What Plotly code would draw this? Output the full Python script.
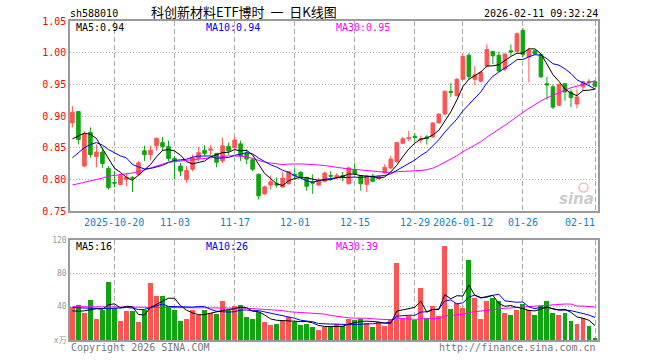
import plotly.graph_objects as go
import pandas as pd

# ---------------- data ----------------
opens = [0.889, 0.907, 0.821, 0.874, 0.836, 0.843, 0.817, 0.795, 0.792, 0.800,
         0.803, 0.808, 0.845, 0.839, 0.853, 0.858, 0.852, 0.833, 0.821, 0.800,
         0.816, 0.833, 0.846, 0.846, 0.841, 0.829, 0.852, 0.850, 0.856, 0.841,
         0.831, 0.808, 0.777, 0.791, 0.793, 0.788, 0.793, 0.808, 0.811, 0.803,
         0.796, 0.791, 0.797, 0.806, 0.804, 0.806, 0.793, 0.815, 0.806, 0.792,
         0.805, 0.801, 0.810, 0.818, 0.828, 0.857, 0.864, 0.868, 0.862, 0.867,
         0.867, 0.889, 0.903, 0.939, 0.932, 0.958, 0.996, 0.958, 0.955, 0.979,
         1.002, 0.996, 0.974, 1.003, 1.002, 1.035, 0.993, 1.003, 0.997, 0.951,
         0.946, 0.917, 0.951, 0.938, 0.919, 0.946, 0.954, 0.954]
highs = [0.916, 0.908, 0.876, 0.882, 0.855, 0.850, 0.821, 0.813, 0.809, 0.809,
         0.805, 0.829, 0.853, 0.853, 0.865, 0.867, 0.861, 0.837, 0.826, 0.821,
         0.839, 0.851, 0.854, 0.854, 0.841, 0.866, 0.858, 0.867, 0.861, 0.847,
         0.834, 0.809, 0.790, 0.806, 0.803, 0.812, 0.813, 0.817, 0.813, 0.804,
         0.808, 0.802, 0.812, 0.813, 0.810, 0.812, 0.820, 0.826, 0.807, 0.807,
         0.809, 0.806, 0.824, 0.837, 0.859, 0.867, 0.876, 0.873, 0.869, 0.870,
         0.890, 0.904, 0.940, 0.952, 0.960, 0.998, 0.999, 0.979, 0.971, 1.013,
         1.003, 1.002, 0.998, 1.013, 1.032, 1.039, 1.008, 1.005, 0.998, 0.962,
         0.950, 0.951, 0.951, 0.942, 0.942, 0.956, 0.958, 0.956]
lows = [0.882, 0.855, 0.819, 0.834, 0.819, 0.818, 0.784, 0.787, 0.791, 0.789,
        0.780, 0.806, 0.829, 0.830, 0.845, 0.845, 0.829, 0.800, 0.805, 0.795,
        0.813, 0.829, 0.837, 0.839, 0.819, 0.826, 0.839, 0.847, 0.829, 0.824,
        0.813, 0.768, 0.776, 0.784, 0.787, 0.787, 0.792, 0.799, 0.802, 0.782,
        0.777, 0.789, 0.795, 0.798, 0.800, 0.797, 0.792, 0.808, 0.782, 0.780,
        0.795, 0.800, 0.809, 0.816, 0.826, 0.856, 0.860, 0.860, 0.857, 0.855,
        0.866, 0.888, 0.902, 0.930, 0.931, 0.957, 0.958, 0.949, 0.953, 0.977,
        0.982, 0.970, 0.971, 0.995, 1.000, 0.993, 0.953, 0.997, 0.960, 0.926,
        0.911, 0.916, 0.924, 0.914, 0.912, 0.940, 0.948, 0.946]
closes = [0.906, 0.863, 0.872, 0.839, 0.843, 0.825, 0.787, 0.794, 0.806, 0.803,
          0.802, 0.826, 0.839, 0.846, 0.865, 0.852, 0.833, 0.828, 0.813, 0.814,
          0.834, 0.842, 0.841, 0.848, 0.827, 0.853, 0.845, 0.862, 0.837, 0.832,
          0.816, 0.774, 0.788, 0.796, 0.791, 0.802, 0.812, 0.806, 0.803, 0.789,
          0.794, 0.799, 0.810, 0.805, 0.806, 0.803, 0.818, 0.809, 0.793, 0.805,
          0.797, 0.805, 0.819, 0.832, 0.858, 0.864, 0.866, 0.866, 0.864, 0.865,
          0.889, 0.903, 0.939, 0.937, 0.958, 0.994, 0.962, 0.965, 0.969, 1.005,
          0.995, 0.971, 0.998, 1.001, 1.030, 0.997, 1.004, 0.998, 0.962, 0.949,
          0.914, 0.950, 0.938, 0.929, 0.930, 0.954, 0.953, 0.947]
volumes = [39.6, 42.4, 33.0, 47.7, 25.0, 36.4, 69.5, 38.4, 23.4, 34.3,
           34.3, 22.2, 36.4, 67.9, 52.5, 52.5, 41.2, 36.4, 23.4, 25.5,
           36.4, 30.3, 36.4, 32.3, 31.1, 46.5, 36.4, 41.2, 42.4, 27.5,
           25.5, 33.1, 22.2, 18.2, 19.4, 23.4, 27.5, 22.2, 18.2, 19.4,
           15.4, 12.1, 16.2, 17.4, 19.4, 17.4, 25.5, 24.2, 25.0, 21.0,
           16.0, 22.0, 17.0, 25.0, 93.0, 25.0, 29.0, 24.0, 62.0, 27.0,
           41.0, 29.0, 113.0, 37.6, 45.0, 39.0, 96.0, 50.0, 25.0, 47.0,
           50.0, 47.0, 33.0, 30.0, 35.5, 43.6, 35.5, 30.0, 41.0, 47.0,
           33.0, 30.0, 33.0, 23.0, 19.0, 26.0, 17.0, 1.6]

# moving-average values at the left edge (earlier history is off-chart)
ma5_head = [0.864, 0.868, 0.873, 0.871]
ma10_head = [0.834, 0.842, 0.850, 0.855, 0.858, 0.854, 0.847, 0.842, 0.837]
ma30_head = [0.791, 0.793, 0.795, 0.797, 0.799, 0.802, 0.805, 0.806, 0.807, 0.808,
             0.810, 0.812, 0.815, 0.818, 0.822, 0.825, 0.827, 0.828, 0.829, 0.830,
             0.831, 0.833, 0.834, 0.835, 0.836, 0.836, 0.837, 0.837, 0.836]
vma5_head = [35.0, 34.5, 35.0, 36.5]
vma10_head = [39.0, 38.5, 38.0, 38.0, 38.0, 37.5, 37.5, 38.0, 38.5]
vma30_head = [40.0, 40.0, 39.9, 39.9, 39.8, 39.8, 39.7, 39.7, 39.6, 39.5,
              39.5, 39.4, 39.3, 39.3, 39.2, 39.1, 39.0, 39.0, 38.9, 38.8,
              38.8, 38.7, 38.6, 38.5, 38.5, 38.4, 38.3, 38.3, 38.2]

tick_idx = [7, 17, 27, 37, 47, 57, 65, 75, 87]
tick_text = ["2025-10-20", "11-03", "11-17", "12-01", "12-15", "12-29",
             "2026-01-12", "01-26", "02-11"]
price_ticks = [0.75, 0.80, 0.85, 0.90, 0.95, 1.00, 1.05]
vol_ticks = [0, 40, 80, 120]
vol_tick_text = ["x万", "40", "80", "120"]
price_ma_labels = ["MA5:0.94", "MA10:0.94", "MA30:0.95"]
vol_ma_labels = ["MA5:16", "MA10:26", "MA30:39"]
code = "sh588010"
title = "科创新材料ETF博时&nbsp;&nbsp;一&nbsp;&nbsp;日K线图"
stamp = "2026-02-11 09:32:24"

# ---------------- derived ----------------
n = len(closes)
idx = list(range(n))


def ma(vals, w, head):
    s = pd.Series(vals).rolling(w).mean().tolist()
    s[:len(head)] = head
    return s


ma5 = ma(closes, 5, ma5_head)
ma10 = ma(closes, 10, ma10_head)
ma30 = ma(closes, 30, ma30_head)
vma5 = ma(volumes, 5, vma5_head)
vma10 = ma(volumes, 10, vma10_head)
vma30 = ma(volumes, 30, vma30_head)

RED = "#ff5454"
GREEN = "#10a410"
vol_colors = [RED if c > o else GREEN for o, c in zip(opens, closes)]

W, H = 660, 360
L, R, T, B = 70, 62, 21, 20
PW, PH = W - L - R, H - T - B


def px(x):
    return (x - L) / PW


def py(y):
    return (H - B - y) / PH


main_dom = [py(211), 1.0]
vol_dom = [0.0, py(240)]

MONO = "DejaVu Sans Mono, Noto Sans CJK SC, monospace"

fig = go.Figure()
fig.add_trace(go.Candlestick(
    x=idx, open=opens, high=highs, low=lows, close=closes,
    increasing=dict(line=dict(color=RED, width=1), fillcolor=RED),
    decreasing=dict(line=dict(color=GREEN, width=1), fillcolor=GREEN),
    whiskerwidth=0, xaxis="x", yaxis="y", hoverinfo="skip", showlegend=False))
for vals, col in [(ma30, "#ff00ff"), (ma10, "#0000ff"), (ma5, "#000000")]:
    fig.add_trace(go.Scatter(x=idx, y=vals, mode="lines",
                             line=dict(color=col, width=1),
                             xaxis="x", yaxis="y", hoverinfo="skip", showlegend=False))

fig.add_trace(go.Bar(x=idx, y=volumes, marker=dict(color=vol_colors, line=dict(width=0)),
                     width=0.82, xaxis="x2", yaxis="y2", hoverinfo="skip", showlegend=False))
for vals, col in [(vma30, "#ff00ff"), (vma10, "#0000ff"), (vma5, "#000000")]:
    fig.add_trace(go.Scatter(x=idx, y=vals, mode="lines",
                             line=dict(color=col, width=1),
                             xaxis="x2", yaxis="y2", hoverinfo="skip", showlegend=False))

xr = [-0.4, 87.5]
axis_common = dict(showline=True, linecolor="#9a9a9a", linewidth=1.5, mirror=True,
                   zeroline=False, fixedrange=True, automargin=False)
fig.update_layout(
    width=W, height=H,
    margin=dict(l=L, r=R, t=T, b=B, pad=0, autoexpand=False),
    paper_bgcolor="white", plot_bgcolor="white",
    boxgap=0.15,
    bargap=0,
    xaxis=dict(domain=[0, 1], range=xr, anchor="y", tickvals=tick_idx,
               showticklabels=False, ticks="", showgrid=True, gridcolor="#ababab",
               griddash="5px,3px", gridwidth=1, rangeslider=dict(visible=False),
               **axis_common),
    yaxis=dict(domain=main_dom, range=[0.75, 1.05], anchor="x", tickvals=price_ticks,
               ticktext=[f"{v:.2f}" for v in price_ticks], ticks="",
               tickfont=dict(family=MONO, size=10, color="#ff0000"),
               showgrid=True, gridcolor="#b0b0b0", griddash="1px,2px", gridwidth=1,
               **axis_common),
    xaxis2=dict(domain=[0, 1], range=xr, anchor="y2", tickvals=tick_idx,
                showticklabels=False, ticks="", showgrid=True, gridcolor="#ababab",
                griddash="5px,3px", gridwidth=1, **axis_common),
    yaxis2=dict(domain=vol_dom, range=[0, 120], anchor="x2", tickvals=vol_ticks,
                ticktext=vol_tick_text, ticks="",
                tickfont=dict(family=MONO, size=8, color="#999999"),
                showgrid=True, gridcolor="#b0b0b0", griddash="1px,2px", gridwidth=1,
                **axis_common),
)

ann = []


def text(x, y, s, color="#000000", size=10, xanchor="left", family=MONO):
    ann.append(dict(x=x, y=y, xref="paper", yref="paper", text=s, showarrow=False,
                    xanchor=xanchor, yanchor="middle",
                    font=dict(family=family, size=size, color=color)))


# header
text(px(68), py(13), code, "#000000", 10)
text(px(244), py(12), title, "#000000", 13, xanchor="center",
     family="Noto Sans CJK SC, DejaVu Sans Mono")
text(px(600), py(13), stamp, "#000000", 10, xanchor="right")

# MA labels
ma_cols = ["#000000", "#0000ff", "#ff00ff"]
ma_x = [74, 204, 334]
for s, col, xx in zip(price_ma_labels, ma_cols, ma_x):
    text(px(xx), py(27.5), s, col, 10)
for s, col, xx in zip(vol_ma_labels, ma_cols, ma_x):
    text(px(xx), py(246), s, col, 10)

# x tick labels
for i, (k, s) in enumerate(zip(tick_idx, tick_text)):
    last = i == len(tick_idx) - 1
    ann.append(dict(x=k + (0.3 if last else 0), y=py(222), xref="x", yref="paper", text=s,
                    showarrow=False, xanchor="right" if last else "center", yanchor="middle",
                    font=dict(family=MONO, size=10, color="#0a84d4")))

# footer
text(px(69), py(347), "Copyright 2026 SINA.COM", "#777777", 10)
text(px(598), py(347), "http://finance.sina.com.cn", "#777777", 10, xanchor="right")

# sina watermark
ann.append(dict(x=px(596), y=py(199), xref="paper", yref="paper", text="<b><i>sina</i></b>",
                showarrow=False, xanchor="right", yanchor="middle",
                font=dict(family="DejaVu Sans", size=15, color="rgba(160,160,160,0.55)")))
fig.update_layout(annotations=ann)
fig.add_shape(type="circle", xref="paper", yref="paper",
              x0=px(579), x1=px(588), y0=py(192), y1=py(183),
              line=dict(color="rgba(235,120,120,0.5)", width=1.5))

fig.write_html("out.html", config={"displayModeBar": False},
               post_script="document.body.style.margin='0px';")
